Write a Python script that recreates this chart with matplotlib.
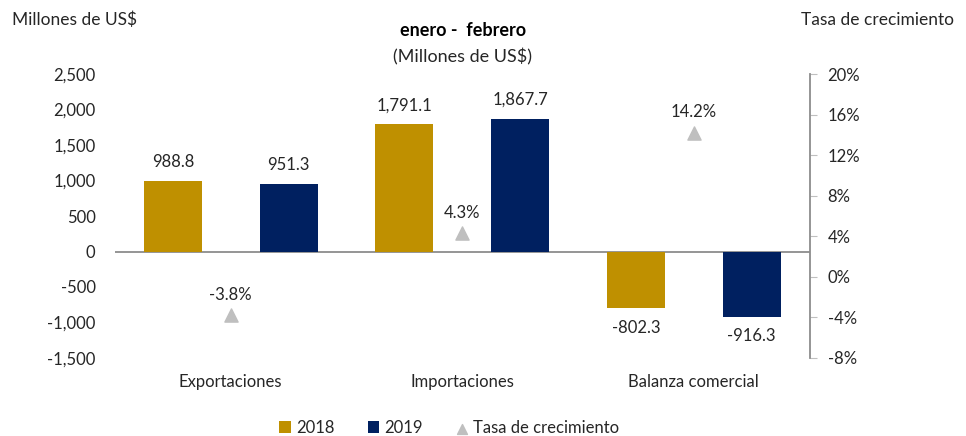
import matplotlib.pyplot as plt
import numpy as np

plt.rcParams['font.family'] = ['Lato', 'DejaVu Sans']

categorias = ['Exportaciones', 'Importaciones', 'Balanza comercial']
valores_2018 = [988.8, 1791.1, -802.3]
valores_2019 = [951.3, 1867.7, -916.3]
tasa = [-3.8, 4.3, 14.2]

oro = '#BF9000'
azul = '#002060'
gris = '#BFBFBF'
texto = '#262626'

fig = plt.figure(figsize=(9.66, 4.36), dpi=100)
ax = fig.add_axes([0.119, 0.179, 0.719, 0.651])
x = np.arange(len(categorias))
w = 0.25

b1 = ax.bar(x - 0.25, valores_2018, w, color=oro, label='2018', zorder=2)
b2 = ax.bar(x + 0.25, valores_2019, w, color=azul, label='2019', zorder=2)

ax.set_xlim(-0.5, 2.5)
ax.set_ylim(-1500, 2500)
ax.set_yticks(np.arange(-1500, 2501, 500))
ax.set_yticklabels([f'{v:,}' for v in range(-1500, 2501, 500)])
ax.axhline(0, color='#8C8C8C', lw=1.3, zorder=1)
for s in ax.spines.values():
    s.set_visible(False)
ax.tick_params(axis='y', length=0, labelsize=12, labelcolor=texto, pad=14)
ax.set_xticks([])

for bars, vals in ((b1, valores_2018), (b2, valores_2019)):
    for b, v in zip(bars, vals):
        off = 8 if v >= 0 else -8
        ax.annotate(f'{v:,.1f}', (b.get_x() + b.get_width() / 2, v),
                    xytext=(0, off), textcoords='offset points',
                    ha='center', va='bottom' if v >= 0 else 'top',
                    fontsize=12, color=texto)

# etiquetas de categoria
for i, c in enumerate(categorias):
    ax.text(i, -1720, c, ha='center', va='top', fontsize=12, color=texto)

ax2 = ax.twinx()
ax2.set_ylim(-8, 20)
ax2.set_yticks(np.arange(-8, 21, 4))
ax2.set_yticklabels([f'{v}%' for v in range(-8, 21, 4)])
for k in ('top', 'left', 'bottom'):
    ax2.spines[k].set_visible(False)
ax2.spines['right'].set_color('#8C8C8C')
ax2.spines['right'].set_linewidth(1.3)
ax2.tick_params(axis='y', length=5, color='#BFBFBF', labelsize=12,
                labelcolor=texto, pad=8)
ax2.scatter(x, tasa, marker='^', s=90, color=gris, zorder=3,
            label='Tasa de crecimiento')
for xi, v in zip(x, tasa):
    ax2.annotate(f'{v}%', (xi, v), xytext=(0, 9), textcoords='offset points',
                 ha='center', va='bottom', fontsize=12, color=texto)

fig.text(0.012, 0.955, 'Millones de US$', fontsize=12.5, color=texto,
         ha='left', va='center')
fig.text(0.988, 0.955, 'Tasa de crecimiento', fontsize=12.5, color=texto,
         ha='right', va='center')
fig.text(0.479, 0.93, 'enero -  febrero', fontsize=13, fontweight='bold',
         ha='center', va='center', color='black')
fig.text(0.479, 0.87, '(Millones de US$)', fontsize=13, ha='center',
         va='center', color=texto)

h1, l1 = ax.get_legend_handles_labels()
h2, l2 = ax2.get_legend_handles_labels()
fig.legend(h1 + h2, l1 + l2, loc='center', bbox_to_anchor=(0.465, 0.018),
           ncol=3, frameon=False, fontsize=12, handlelength=0.7,
           handleheight=0.7, handletextpad=0.3, columnspacing=2.0,
           markerscale=0.75, labelcolor=texto)

fig.savefig('out.png', dpi=100)
